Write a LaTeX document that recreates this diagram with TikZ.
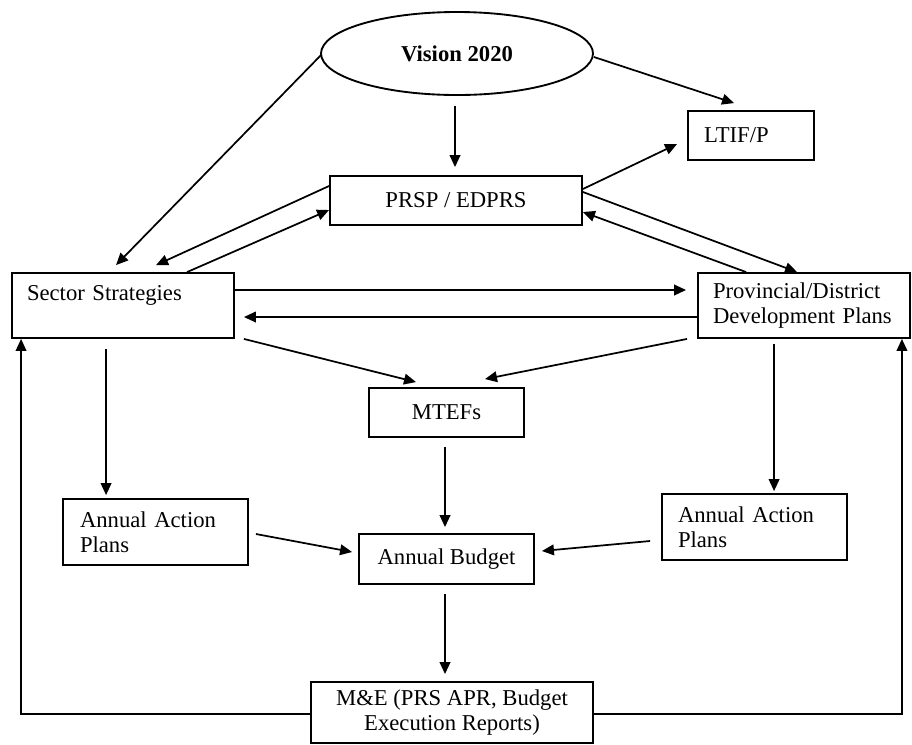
\documentclass[tikz,border=0pt]{standalone}
\usepackage{fontspec}
\setmainfont{Liberation Serif}
\usetikzlibrary{shapes.geometric,arrows.meta,calc}
\begin{document}
\begin{tikzpicture}[x=0.75pt,y=-0.75pt,
  every node/.style={font=\fontsize{17}{19}\selectfont},
  box/.style={draw,line width=1.4pt,rectangle,inner sep=0pt},
  lbox/.style={box,align=left},
  cbox/.style={box,align=center},
  conn/.style={line width=1.3pt,-{Triangle[length=9pt,width=8pt]}},
  plain/.style={line width=1.3pt}]
\useasboundingbox (0,0) rectangle (912,744);
% nodes
\node[draw,ellipse,line width=1.4pt,minimum width=204pt,minimum height=62.25pt,inner sep=0pt,font=\fontsize{17}{19}\selectfont\bfseries] (vis) at (457,53.5) {Vision 2020};
\node[lbox,minimum width=94.5pt,minimum height=36.75pt,text width=70.5pt,inner xsep=12pt] (ltif) at (751,135.5) {LTIF/P};
\node[cbox,minimum width=189pt,minimum height=36.75pt] (prsp) at (456,200.5) {PRSP / EDPRS};
\node[lbox,minimum width=166.5pt,minimum height=48.75pt,text width=144pt,inner xsep=11.25pt] (ss) at (123,305.5) {Sector Strategies\\\mbox{}};
\node[lbox,minimum width=159pt,minimum height=48.75pt,text width=136.5pt,inner xsep=11.25pt] (pdp) at (804,305.5) {Provincial/District\\Development Plans};
\node[cbox,minimum width=116.25pt,minimum height=36.75pt] (mtef) at (446.5,412.5) {MTEFs};
\node[lbox,minimum width=138.75pt,minimum height=49.5pt,text width=113.25pt,inner xsep=12.75pt] (aapl) at (155.5,532) {Annual Action\\Plans};
\node[lbox,minimum width=138.75pt,minimum height=49.5pt,text width=114.75pt,inner xsep=12pt] (aapr) at (754.5,527) {Annual Action\\Plans};
\node[cbox,minimum width=131.25pt,minimum height=37.5pt] (bud) at (446.5,559) {Annual Budget};
\node[cbox,minimum width=211.5pt,minimum height=45.75pt] (me) at (452,712.5) {M\&E (PRS APR, Budget\\Execution Reports)};
% connectors
\draw[conn] ($(vis.west)+(1,1.5)$) -- ($(ss.north west)+(105,-7)$);
\draw[conn] ($(vis.east)+(0,3.5)$) -- ($(ltif.north west)+(47,-7)$);
\draw[conn] ($(vis.south)+(-2,10)$) -- ($(prsp.north)+(-1,-8)$);
\draw[conn] ($(prsp.east)+(0,-11.5)$) -- ($(ltif.west)+(-10,8.5)$);
\draw[conn] ($(prsp.west)+(0,-14.5)$) -- ($(ss.north west)+(145,-7)$);
\draw[conn] ($(ss.north west)+(176,0)$) -- ($(prsp.west)+(0,9.5)$);
\draw[conn] ($(prsp.east)+(0,-8.5)$) -- ($(pdp.north west)+(100,0)$);
\draw[conn] ($(pdp.north west)+(49,0)$) -- ($(prsp.east)+(0,11.5)$);
\draw[conn] ($(ss.east)+(0,-15.5)$) -- ($(pdp.west)+(-11,-15.5)$);
\draw[conn] ($(pdp.west)+(0,11.5)$) -- ($(ss.east)+(9,11.5)$);
\draw[conn] ($(ss.south east)+(9,0)$) -- ($(mtef.north)+(-30.5,-5)$);
\draw[conn] ($(pdp.south west)+(-10,0)$) -- ($(mtef.north)+(38.5,-8)$);
\draw[conn] ($(ss.south west)+(95,10)$) -- ($(aapl.north west)+(44,-3)$);
\draw[conn] ($(pdp.south west)+(77,5)$) -- ($(aapr.north west)+(113,-2)$);
\draw[conn] ($(mtef.south)+(-1.5,9)$) -- ($(bud.north)+(-1.5,-6)$);
\draw[conn] ($(aapl.east)+(7,2)$) -- ($(bud.west)+(-6,-7)$);
\draw[conn] ($(aapr.west)+(-11,14)$) -- ($(bud.east)+(7,-8)$);
\draw[conn] ($(bud.south)+(-1.5,9)$) -- ($(me.north)+(-7,-7)$);
\draw[conn] ($(me.west)+(0,1.5)$) -| ($(ss.south west)+(10,0)$);
\draw[conn] ($(me.east)+(0,1.5)$) -| ($(pdp.south east)+(-9,0)$);
\end{tikzpicture}
\end{document}
